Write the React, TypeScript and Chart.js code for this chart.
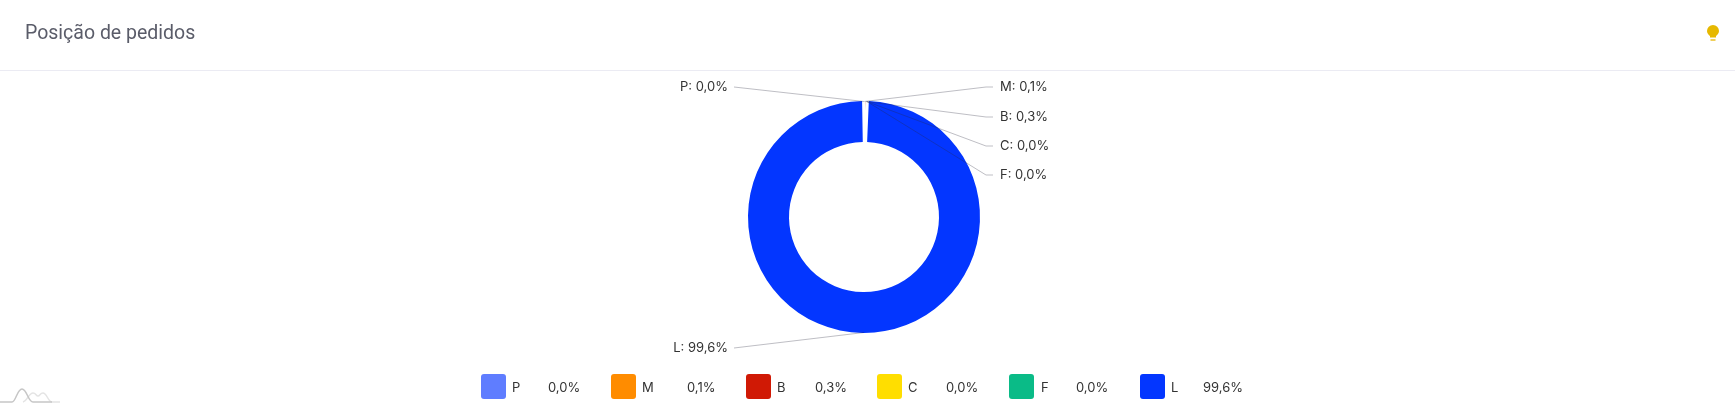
import React, { useEffect, useRef } from "react";
import { Chart, registerables } from "chart.js";

Chart.register(...registerables);

const categories = ["P", "M", "B", "C", "F", "L"];
const values = [0.0, 0.1, 0.3, 0.0, 0.0, 99.6];
const valueLabels = ["0,0%", "0,1%", "0,3%", "0,0%", "0,0%", "99,6%"];
const colors = ["#5f7dff", "#ff8c00", "#d01905", "#ffde00", "#0abb87", "#0336ff"];
const borderWidths = [2, 2, 2, 2, 2, 0];

const labelFont = "13px Inter, sans-serif";
const labelAnchors = [
  { side: "left", y: 87 },
  { side: "right", y: 87 },
  { side: "right", y: 117 },
  { side: "right", y: 146 },
  { side: "right", y: 175 },
  { side: "left", y: 348 },
];

const legendLayout = [
  { swatch: 481, name: 512, value: 548 },
  { swatch: 611, name: 642, value: 687 },
  { swatch: 746, name: 777, value: 815 },
  { swatch: 877, name: 908, value: 946 },
  { swatch: 1009, name: 1041, value: 1076 },
  { swatch: 1140, name: 1171, value: 1203 },
];

const leaderPlugin = {
  id: "leaders",
  afterDatasetsDraw(chart: any) {
    const { ctx } = chart;
    const arcs = chart.getDatasetMeta(0).data;
    ctx.save();
    ctx.font = labelFont;
    ctx.textBaseline = "middle";
    arcs.forEach((arc: any, i: number) => {
      const a = labelAnchors[i];
      const mid = i === 5 ? Math.PI / 2 : (arc.startAngle + arc.endAngle) / 2;
      const sx = arc.x + Math.cos(mid) * arc.outerRadius;
      const sy = arc.y + Math.sin(mid) * arc.outerRadius;
      const isRight = a.side === "right";
      const ex = isRight ? 993 : 734;
      const kx = isRight ? 986 : 734;
      ctx.beginPath();
      ctx.moveTo(sx, sy);
      ctx.lineTo(kx, a.y);
      ctx.lineTo(ex, a.y);
      ctx.strokeStyle = "rgba(40,40,60,0.3)";
      ctx.lineWidth = 1;
      ctx.stroke();
      ctx.fillStyle = "#333333";
      ctx.textAlign = isRight ? "left" : "right";
      ctx.fillText(`${categories[i]}: ${valueLabels[i]}`, isRight ? 1000 : 728, a.y);
    });
    ctx.restore();
  },
};

export default function App() {
  const ref = useRef<HTMLCanvasElement>(null);

  useEffect(() => {
    const chart = new Chart(ref.current!, {
      type: "doughnut",
      data: {
        labels: categories,
        datasets: [
          {
            data: values,
            backgroundColor: colors,
            borderColor: "#ffffff",
            borderWidth: borderWidths,
            spacing: 1,
          },
        ],
      },
      options: {
        animation: false,
        responsive: false,
        cutout: "64.5%",
        layout: { padding: { left: 747, right: 754, top: 100, bottom: 72 } },
        plugins: { legend: { display: false }, tooltip: { enabled: false } },
      },
      plugins: [leaderPlugin],
    } as any);
    return () => chart.destroy();
  }, []);

  const legendText: React.CSSProperties = {
    position: "absolute",
    top: 378,
    height: 18,
    font: "13px/18px Inter, sans-serif",
    color: "#333333",
    whiteSpace: "nowrap",
  };

  return (
    <div style={{ position: "fixed", left: 0, top: 0, width: 1735, height: 406, background: "#fff", overflow: "hidden" }}>
      <canvas ref={ref} width={1735} height={406} style={{ position: "absolute", left: 0, top: 0 }} />
      <div style={{ position: "absolute", left: 25, top: 20, font: "19.5px/26px Roboto, sans-serif", color: "#5a5c69" }}>
        Posição de pedidos
      </div>
      <div style={{ position: "absolute", left: 0, top: 70, width: 1735, height: 1, background: "#ebebf3" }} />
      <svg style={{ position: "absolute", left: 1706, top: 24 }} width={14} height={18} viewBox="0 0 14 18">
        <path d="M7 1a6 6 0 0 0-6 6c0 2.4 1.4 3.6 3 5v1.5h6V12c1.6-1.4 3-2.6 3-5a6 6 0 0 0-6-6z" fill="#e6b800" />
        <rect x="4.5" y="15" width="5" height="2" fill="#f0cf5a" />
      </svg>
      <svg style={{ position: "absolute", left: 0, top: 385 }} width={62} height={21} viewBox="0 0 62 21">
        <path d="M23 17c4-1 6-9 10-9 3 0 3 3 5 3s2-3 5-3c4 0 5 9 9 9h8" fill="none" stroke="#e4e4e4" strokeWidth="1.5" />
        <path d="M0 17h12c4 0 5-13 10-13s6 13 11 13h19" fill="none" stroke="#c6c6c6" strokeWidth="1.5" />
      </svg>
      {categories.map((c, i) => (
        <React.Fragment key={c}>
          <div
            style={{
              position: "absolute",
              left: legendLayout[i].swatch,
              top: 374,
              width: 25,
              height: 25,
              borderRadius: 3,
              background: colors[i],
            }}
          />
          <div style={{ ...legendText, left: legendLayout[i].name }}>{c}</div>
          <div style={{ ...legendText, left: legendLayout[i].value }}>{valueLabels[i]}</div>
        </React.Fragment>
      ))}
    </div>
  );
}
